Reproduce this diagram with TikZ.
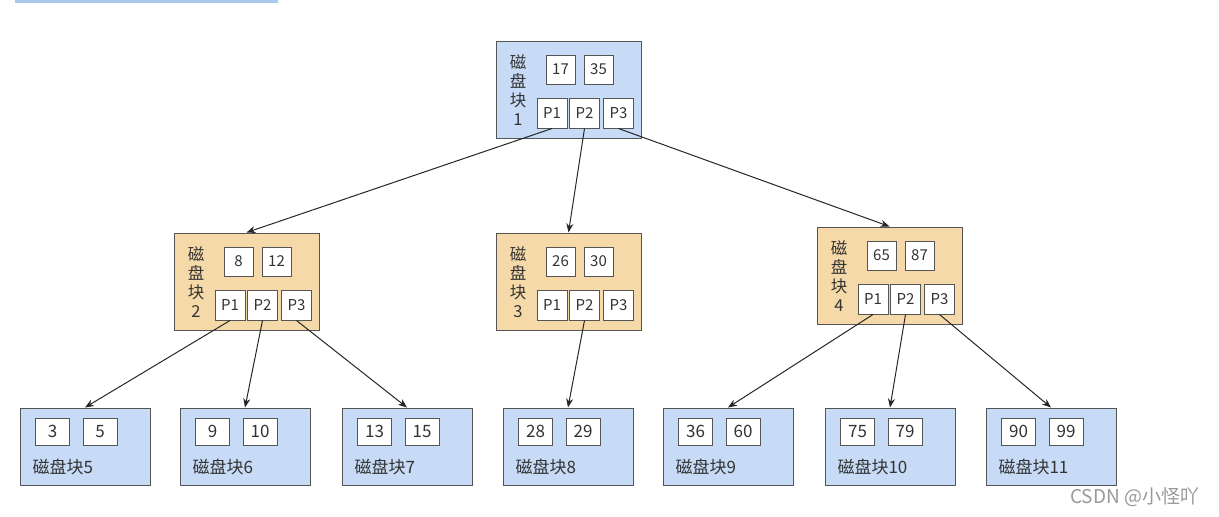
\documentclass[tikz,border=0pt]{standalone}
\usepackage{fontspec}
\setmainfont{Noto Sans CJK SC}
\usepackage{tikz}
\usetikzlibrary{arrows.meta}
\definecolor{blueF}{HTML}{C7DBF6}
\definecolor{tanF}{HTML}{F5D9A8}
\definecolor{lineC}{HTML}{555555}
\definecolor{textC}{HTML}{333333}
\definecolor{barF}{HTML}{A9C9EA}
\begin{document}
\begin{tikzpicture}[x=1pt, y=-1pt, line width=1pt,
      blk/.style={draw=lineC, minimum width=145pt, minimum height=97pt, inner sep=0pt},
      leaf/.style={draw=lineC, fill=blueF, minimum width=130pt, minimum height=77pt, inner sep=0pt},
      key/.style={draw=lineC, fill=white, minimum width=29pt, minimum height=29pt, inner sep=0pt,
                  text=textC, font=\fontsize{15}{18}\selectfont},
      ptr/.style={key, minimum width=30pt, minimum height=30pt},
      lkey/.style={key, minimum width=34pt, minimum height=27pt, font=\fontsize{17}{20}\selectfont},
      vlab/.style={align=center, inner sep=0pt, text=textC, font=\fontsize{16.5}{19}\selectfont},
      llab/.style={anchor=west, inner sep=0pt, text=textC, font=\fontsize{17}{20}\selectfont},
      link/.style={draw=black!85, -{Stealth[length=9pt, width=7pt]}}]
    \useasboundingbox (0,0) rectangle (1219,517);
    \fill[barF] (15,0) rectangle (278,3);
    % root
    \node[blk, fill=blueF] (b1) at (568.5,89.5) {};
    \node[vlab] (b1t) at (518,90.5) {磁\\盘\\块\\1};
    \node[key] (b1k1) at (560.5,69.5) {17};
    \node[key] (b1k2) at (598.5,69.5) {35};
    \node[ptr] (b1p1) at (552,113) {P1};
    \node[ptr] (b1p2) at (584.5,113) {P2};
    \node[ptr] (b1p3) at (618.5,113) {P3};
    % second level
    \node[blk, fill=tanF] (b2) at (246.5,281.5) {};
    \node[vlab] (b2t) at (196,282.5) {磁\\盘\\块\\2};
    \node[key] (b2k1) at (238.5,261.5) {8};
    \node[key] (b2k2) at (276.5,261.5) {12};
    \node[ptr] (b2p1) at (230,305) {P1};
    \node[ptr] (b2p2) at (262.5,305) {P2};
    \node[ptr] (b2p3) at (296.5,305) {P3};
    \node[blk, fill=tanF] (b3) at (568.5,281.5) {};
    \node[vlab] (b3t) at (518,282.5) {磁\\盘\\块\\3};
    \node[key] (b3k1) at (560.5,261.5) {26};
    \node[key] (b3k2) at (598.5,261.5) {30};
    \node[ptr] (b3p1) at (552,305) {P1};
    \node[ptr] (b3p2) at (584.5,305) {P2};
    \node[ptr] (b3p3) at (618.5,305) {P3};
    \node[blk, fill=tanF] (b4) at (889.5,275.5) {};
    \node[vlab] (b4t) at (839,276.5) {磁\\盘\\块\\4};
    \node[key] (b4k1) at (881.5,255.5) {65};
    \node[key] (b4k2) at (919.5,255.5) {87};
    \node[ptr] (b4p1) at (873,299) {P1};
    \node[ptr] (b4p2) at (905.5,299) {P2};
    \node[ptr] (b4p3) at (939.5,299) {P3};
    % leaves
    \node[leaf] (b5) at (85,446.5) {};
    \node[lkey] (b5k1) at (52.5,431.5) {3};
    \node[lkey] (b5k2) at (100,431.5) {5};
    \node[llab] (b5t) at (32,467) {磁盘块5};
    \node[leaf] (b6) at (245,446.5) {};
    \node[lkey] (b6k1) at (212.5,431.5) {9};
    \node[lkey] (b6k2) at (260,431.5) {10};
    \node[llab] (b6t) at (192,467) {磁盘块6};
    \node[leaf] (b7) at (407,446.5) {};
    \node[lkey] (b7k1) at (374.5,431.5) {13};
    \node[lkey] (b7k2) at (422,431.5) {15};
    \node[llab] (b7t) at (354,467) {磁盘块7};
    \node[leaf] (b8) at (568,446.5) {};
    \node[lkey] (b8k1) at (535.5,431.5) {28};
    \node[lkey] (b8k2) at (583,431.5) {29};
    \node[llab] (b8t) at (515,467) {磁盘块8};
    \node[leaf] (b9) at (728,446.5) {};
    \node[lkey] (b9k1) at (695.5,431.5) {36};
    \node[lkey] (b9k2) at (743,431.5) {60};
    \node[llab] (b9t) at (675,467) {磁盘块9};
    \node[leaf] (b10) at (890,446.5) {};
    \node[lkey] (b10k1) at (857.5,431.5) {75};
    \node[lkey] (b10k2) at (905,431.5) {79};
    \node[llab] (b10t) at (837,467) {磁盘块10};
    \node[leaf] (b11) at (1051,446.5) {};
    \node[lkey] (b11k1) at (1018.5,431.5) {90};
    \node[lkey] (b11k2) at (1066,431.5) {99};
    \node[llab] (b11t) at (998,467) {磁盘块11};
    \draw[link] (b1p1.south) -- (b2.north);
    \draw[link] (b1p2.south) -- (b3.north);
    \draw[link] (b1p3.south) -- (b4.north);
    \draw[link] (b2p1.south) -- (b5.north);
    \draw[link] (b2p2.south) -- (b6.north);
    \draw[link] (b2p3.south) -- (b7.north);
    \draw[link] (b3p2.south) -- (b8.north);
    \draw[link] (b4p1.south) -- (b9.north);
    \draw[link] (b4p2.south) -- (b10.north);
    \draw[link] (b4p3.south) -- (b11.north);
    \node[anchor=east, text=black!40, font=\fontsize{19}{22}\selectfont] (wm) at (1203,497) {CSDN @小怪吖};
\end{tikzpicture}
\end{document}
